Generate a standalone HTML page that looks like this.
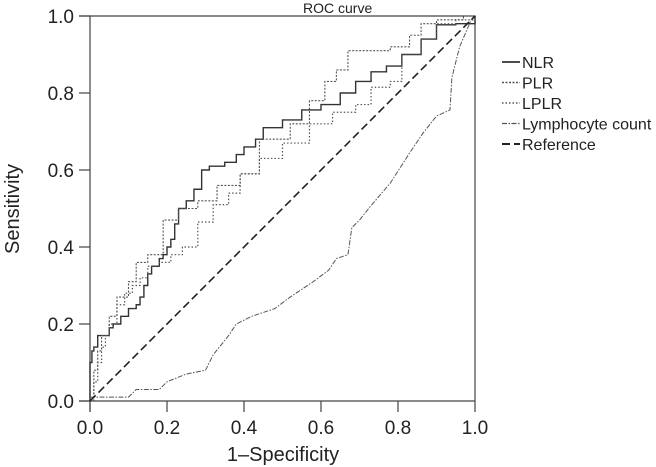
<!DOCTYPE html>
<html><head><meta charset="utf-8"><style>
body{margin:0;background:#fff;}
svg{display:block;font-family:"Liberation Sans",Arial,sans-serif;}
</style></head><body>
<svg id="chart" width="656" height="467">
</svg>
<script>
const ticks=[0,0.2,0.4,0.6,0.8,1.0];
const tickLabels=["0.0","0.2","0.4","0.6","0.8","1.0"];
const nlrX=[0,0,0.005,0.01,0.02,0.03,0.05,0.06,0.08,0.1,0.12,0.13,0.14,0.15,0.16,0.18,0.19,0.2,0.21,0.22,0.23,0.25,0.27,0.29,0.31,0.35,0.38,0.4,0.43,0.45,0.5,0.55,0.6,0.65,0.69,0.73,0.77,0.81,0.86,0.9,0.95,1];
const nlrY=[0,0.1,0.13,0.14,0.17,0.17,0.19,0.2,0.22,0.24,0.25,0.27,0.3,0.33,0.35,0.37,0.38,0.4,0.42,0.46,0.5,0.52,0.55,0.6,0.61,0.62,0.64,0.66,0.68,0.71,0.73,0.756,0.77,0.8,0.83,0.855,0.87,0.9,0.94,0.977,0.98,1];
const plrX=[0,0.01,0.02,0.03,0.05,0.07,0.1,0.12,0.15,0.19,0.23,0.28,0.33,0.39,0.44,0.52,0.57,0.61,0.64,0.67,0.73,0.78,0.81,0.83,0.86,0.9,0.95,0.97,1];
const plrY=[0,0.08,0.13,0.17,0.22,0.27,0.31,0.36,0.38,0.47,0.5,0.52,0.56,0.59,0.68,0.72,0.78,0.83,0.86,0.91,0.91,0.92,0.92,0.95,0.98,0.99,0.99,1,1];
const lplrX=[0,0.01,0.02,0.03,0.04,0.05,0.07,0.09,0.11,0.13,0.15,0.18,0.21,0.24,0.28,0.32,0.36,0.39,0.44,0.5,0.57,0.63,0.69,0.73,0.78,0.81,0.86,0.9,0.95,1];
const lplrY=[0,0.05,0.1,0.14,0.17,0.2,0.25,0.28,0.3,0.32,0.35,0.36,0.38,0.4,0.465,0.51,0.54,0.59,0.63,0.67,0.72,0.75,0.77,0.815,0.83,0.9,0.94,0.98,0.99,1];
const lymX=[0,0.1,0.12,0.18,0.2,0.25,0.3,0.32,0.36,0.38,0.42,0.48,0.52,0.58,0.62,0.64,0.67,0.68,0.7,0.727,0.78,0.83,0.865,0.9,0.935,0.94,0.96,0.99,1];
const lymY=[0.01,0.01,0.03,0.03,0.05,0.07,0.08,0.12,0.17,0.2,0.22,0.24,0.27,0.31,0.34,0.37,0.38,0.45,0.47,0.504,0.566,0.644,0.696,0.74,0.756,0.84,0.92,0.99,1];
const refX=[0,1], refY=[0,1];
const X0=90,X1=475,Y0=401,Y1=16;
const sx=v=>X0+(X1-X0)*v, sy=v=>Y0-(Y0-Y1)*v;
const svg=document.getElementById('chart');
const NS='http://www.w3.org/2000/svg';
function mk(t,a){const e=document.createElementNS(NS,t);for(const k in a)e.setAttribute(k,a[k]);svg.appendChild(e);return e;}
let f=mk('path',{d:`M79 ${Y1}H${X1}V${Y0}M${X0} ${Y1}V412M79 ${Y0}H${X1}`,stroke:'#444',fill:'none','stroke-width':1.2});


ticks.forEach((t,i)=>{
 let a=mk('line',{x1:sx(t),x2:sx(t),y1:Y0,y2:412,stroke:'#444','stroke-width':1.2});
 
 
 let b=mk('line',{x1:79,x2:X0,y1:sy(t),y2:sy(t),stroke:'#444','stroke-width':1.2});
 
 
 let tx=mk('text',{x:sx(t),y:434,'font-size':19,'text-anchor':'middle',fill:'#222'});tx.textContent=tickLabels[i];
 
 
 let ty=mk('text',{x:74,y:sy(t)+7,'font-size':19,'text-anchor':'end',fill:'#222'});ty.textContent=tickLabels[i];
 
 
});
function step(xs,ys){let d=`M${sx(xs[0])} ${sy(ys[0])}`;for(let i=1;i<xs.length;i++){d+=`H${sx(xs[i])}V${sy(ys[i])}`;}return d;}
function line(xs,ys){return xs.map((x,i)=>(i?'L':'M')+sx(x)+' '+sy(ys[i])).join('');}
const series=[
 {n:'nlr-curve',d:step(nlrX,nlrY),da:'',w:1.4,c:'#333'},
 {n:'plr-curve',d:step(plrX,plrY),da:'2,1.5',w:1.1,c:'#555'},
 {n:'lplr-curve',d:step(lplrX,lplrY),da:'1.5,2',w:1.2,c:'#555'},
 {n:'lymphocyte-count-curve',d:line(lymX,lymY),da:'5,1.5,1.5,1.5',w:1,c:'#555'},
 {n:'reference-line',d:line(refX,refY),da:'8,4',w:1.6,c:'#222'}];
series.forEach(s=>{let p=mk('path',{d:s.d,fill:'none',stroke:s.c,'stroke-width':s.w,'stroke-dasharray':s.da});
 
 });
const legNames=['NLR','PLR','LPLR','Lymphocyte count','Reference'];
legNames.forEach((n,i)=>{const y=62+i*20.5;
 let l=mk('line',{x1:502,x2:520,y1:y,y2:y,stroke:series[i].c,'stroke-width':series[i].w+0.3,'stroke-dasharray':series[i].da});
 
 
 let t=mk('text',{x:522,y:y+6,'font-size':16,fill:'#222'});t.textContent=n;
 
 });
let ti=mk('text',{x:303,y:13,'font-size':14,fill:'#222'});ti.textContent='ROC curve';


let xt=mk('text',{x:283,y:461,'font-size':20,'text-anchor':'middle',fill:'#222'});xt.textContent='1\u2013Specificity';


let yt=mk('text',{x:0,y:0,'font-size':20,'text-anchor':'middle',fill:'#222',transform:'translate(19,209) rotate(-90)'});yt.textContent='Sensitivity';


</script>
</body></html>
